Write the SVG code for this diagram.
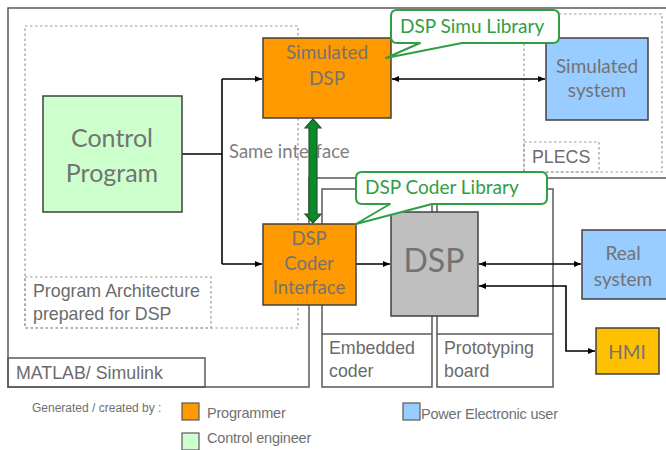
<svg xmlns="http://www.w3.org/2000/svg" width="666" height="450" viewBox="0 0 666 450">
<defs>
<marker id="arr" markerWidth="8" markerHeight="8" refX="7" refY="4" orient="auto-start-reverse" markerUnits="userSpaceOnUse">
<path d="M0,1 L7,4 L0,7 z" fill="#000"/>
</marker>
<style>
.frame{fill:none;stroke:#595959;stroke-width:1.5}
.dot{fill:none;stroke:#9a9a9a;stroke-width:1.2;stroke-dasharray:2.5,2.5}
.node{stroke:#404040;stroke-width:1.5}
.lbl{font-family:"Liberation Sans",Arial,sans-serif;font-size:17.8px;fill:#6b6b6b}
.nt{font-family:Lato,"Open Sans",sans-serif;fill:#737373;text-anchor:middle;dominant-baseline:central}
.conn{fill:none;stroke:#000;stroke-width:1.6}
.call{fill:#fff;stroke:#2f9e44;stroke-width:2;stroke-linejoin:round}
.ct{font-family:Lato,"Open Sans",sans-serif;font-size:19px;fill:#2f9e44}
.leg{font-family:"Liberation Sans",Arial,sans-serif;fill:#707070}
</style>
</defs>
<rect width="666" height="450" fill="#fff"/>

<g id="frames">
<path class="frame" d="M8,8 H668 V178 H309 V387 H8 Z"/>
<rect class="frame" x="8" y="358" width="197" height="29"/>
<text class="lbl" x="16" y="379">MATLAB/ Simulink</text>
<rect class="dot" x="25" y="26" width="273" height="302"/>
<rect class="dot" x="25" y="277" width="186" height="51"/>
<text class="lbl" x="33" y="297">Program Architecture</text>
<text class="lbl" x="33" y="320">prepared for DSP</text>
<rect class="dot" x="524" y="14" width="138" height="158"/>
<rect class="dot" x="524" y="142" width="75" height="30"/>
<text class="lbl" x="532" y="163">PLECS</text>
<rect class="frame" x="322" y="189" width="110" height="198"/>
<line class="frame" x1="322" y1="334" x2="432" y2="334"/>
<text class="lbl" x="329" y="354">Embedded</text>
<text class="lbl" x="329" y="377">coder</text>
<rect class="frame" x="437" y="189" width="116" height="198"/>
<line class="frame" x1="437" y1="334" x2="553" y2="334"/>
<text class="lbl" x="444" y="354">Prototyping</text>
<text class="lbl" x="444" y="377">board</text>
</g>

<text x="229" y="158" style="font-family:Lato,'Open Sans',sans-serif;font-size:18.5px;fill:#808080">Same interface</text>

<g id="connectors">
<polyline class="conn" points="182,154 222,154"/>
<polyline class="conn" points="222,79 222,264"/>
<line class="conn" x1="222" y1="79" x2="262" y2="79" marker-end="url(#arr)"/>
<line class="conn" x1="222" y1="264" x2="262" y2="264" marker-end="url(#arr)"/>
<line class="conn" x1="392" y1="79" x2="545" y2="79" marker-start="url(#arr)" marker-end="url(#arr)"/>
<line class="conn" x1="356" y1="264" x2="390" y2="264" marker-end="url(#arr)"/>
<line class="conn" x1="479" y1="264" x2="581" y2="264" marker-start="url(#arr)" marker-end="url(#arr)"/>
<polyline class="conn" points="479,286 566,286 566,351 595,351" marker-start="url(#arr)" marker-end="url(#arr)"/>
<polygon points="313,119 321,128 317,128 317,214 321,214 313,223 305,214 309,214 309,128 305,128" fill="#0b8a2c" stroke="#24562a" stroke-width="1.2"/>
</g>

<g id="control-program">
<rect class="node" x="43" y="96" width="139" height="116" fill="#ccffcc"/>
<text class="nt" x="112" y="137" font-size="25">Control</text>
<text class="nt" x="112" y="172" font-size="25">Program</text>
</g>

<g id="simulated-dsp">
<rect class="node" x="263" y="38" width="128" height="80" fill="#ff9900"/>
<text class="nt" x="327" y="51" font-size="19">Simulated</text>
<text class="nt" x="327" y="77" font-size="19">DSP</text>
</g>

<g id="dsp-coder-interface">
<rect class="node" x="263" y="224" width="93" height="81" fill="#ff9900"/>
<text class="nt" x="309" y="238" font-size="18.5">DSP</text>
<text class="nt" x="309" y="263" font-size="18.5">Coder</text>
<text class="nt" x="309" y="287" font-size="18.5">Interface</text>
</g>

<g id="dsp">
<rect class="node" x="391" y="212" width="87" height="104" fill="#bfbfbf"/>
<text class="nt" x="434" y="259" font-size="32">DSP</text>
</g>

<g id="simulated-system">
<rect class="node" x="546" y="38" width="102" height="82" fill="#99ccff"/>
<text class="nt" x="597" y="65" font-size="19">Simulated</text>
<text class="nt" x="597" y="89" font-size="19">system</text>
</g>

<g id="real-system">
<rect class="node" x="582" y="230" width="90" height="69" fill="#99ccff"/>
<text class="nt" x="623" y="252" font-size="19">Real</text>
<text class="nt" x="623" y="278" font-size="19">system</text>
</g>

<g id="hmi">
<rect class="node" x="596" y="328" width="63" height="46" fill="#ffc000"/>
<text class="nt" x="627" y="351" font-size="19">HMI</text>
</g>

<g id="callout-simu">
<path class="call" d="M397,10 H553 Q559,10 559,16 V37 Q559,43 553,43 H462 L386,58 L420,43 H397 Q391,43 391,37 V16 Q391,10 397,10 Z"/>
<text class="ct" x="400" y="33">DSP Simu Library</text>
</g>

<g id="callout-coder">
<path class="call" d="M362,172 H541 Q547,172 547,178 V198 Q547,204 541,204 H432 L356,224 L390,204 H362 Q356,204 356,198 V178 Q356,172 362,172 Z"/>
<text class="ct" x="365" y="194">DSP Coder Library</text>
</g>

<g id="legend">
<text class="leg" x="32" y="412" font-size="12">Generated / created by :</text>
<rect x="182" y="403" width="17" height="17" fill="#ff9900" stroke="#595959" stroke-width="1.2"/>
<text class="leg" x="207" y="418" font-size="14.5" letter-spacing="-0.2">Programmer</text>
<rect x="182" y="433" width="17" height="17" fill="#ccffcc" stroke="#595959" stroke-width="1.2"/>
<text class="leg" x="207" y="443" font-size="14.5" letter-spacing="-0.2">Control engineer</text>
<rect x="403" y="403" width="17" height="17" fill="#99ccff" stroke="#595959" stroke-width="1.2"/>
<text class="leg" x="421" y="419" font-size="14.5" letter-spacing="-0.2">Power Electronic user</text>
</g>
</svg>
